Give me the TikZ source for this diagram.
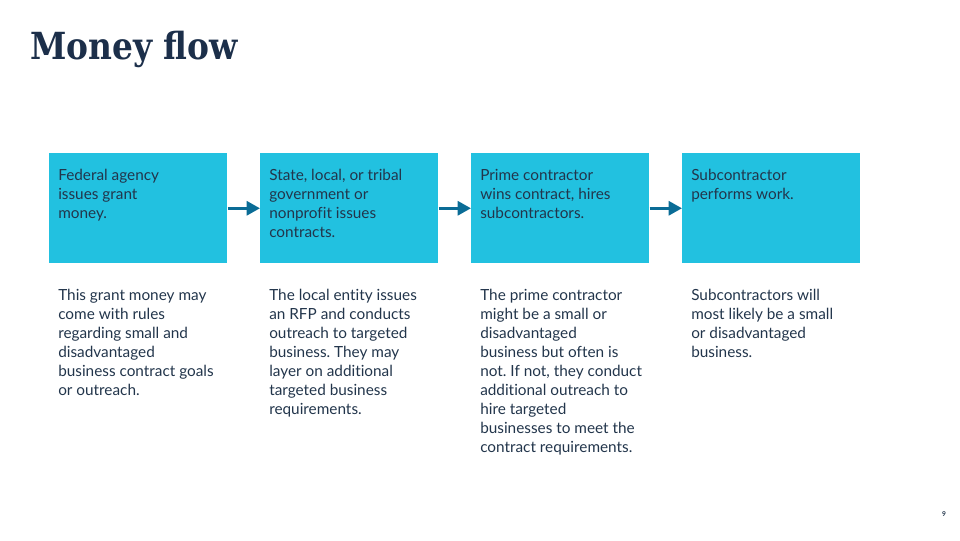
\documentclass[tikz,border=0pt]{standalone}
\usepackage{fontspec}
\setmainfont[Ligatures=NoCommon]{Lato}
\newfontfamily\titlefont[FakeStretch=0.88]{DejaVu Serif}
\usetikzlibrary{positioning,arrows.meta}
\definecolor{boxcyan}{HTML}{22C1E0}
\definecolor{navy}{HTML}{1C2F4A}
\definecolor{arrowteal}{HTML}{0A6C96}
\definecolor{bodytext}{HTML}{22354B}
\frenchspacing
\begin{document}
\begin{tikzpicture}[x=0.75pt,y=-0.75pt,
    stagebox/.style={fill=boxcyan,draw=none,minimum width=133.5pt,minimum height=82.5pt,anchor=north west,inner sep=0},
    stagetext/.style={align=left,text=bodytext,font=\fontsize{11.5}{14.25}\selectfont,inner sep=0},
    flowarrow/.style={draw=arrowteal,line width=2.2pt,-{Triangle[length=10pt,width=10.5pt]}}]
  \useasboundingbox (0,0) rectangle (960,540);
  \node[anchor=base west,text=navy,font=\titlefont\bfseries\fontsize{28}{32}\selectfont,inner sep=0] (title) at (30,59) {Money flow};
  % four stages
  \foreach \i/\x in {1/49,2/260,3/471,4/682}
    \node[stagebox] (box\i) at (\x,153) {};
  \foreach \a/\b in {1/2,2/3,3/4}
    \draw[flowarrow] (box\a) -- (box\b);
  % box texts
  \node[stagetext,below right=12pt and 6.75pt of box1.north west] (head1) {Federal agency\\issues grant\\money.};
  \node[stagetext,below right=12pt and 6.75pt of box2.north west] (head2) {State, local, or tribal\\government or\\nonprofit issues\\contracts.};
  \node[stagetext,below right=12pt and 6.75pt of box3.north west] (head3) {Prime contractor\\wins contract, hires\\subcontractors.};
  \node[stagetext,below right=12pt and 6.75pt of box4.north west] (head4) {Subcontractor\\performs work.};
  % notes below
  \node[stagetext,below right=18.75pt and 6.75pt of box1.south west] (note1) {This grant money may\\come with rules\\regarding small and\\disadvantaged\\business contract goals\\or outreach.};
  \node[stagetext,below right=18.75pt and 6.75pt of box2.south west] (note2) {The local entity issues\\an RFP and conducts\\outreach to targeted\\business. They may\\layer on additional\\targeted business\\requirements.};
  \node[stagetext,below right=18.75pt and 6.75pt of box3.south west] (note3) {The prime contractor\\might be a small or\\disadvantaged\\business but often is\\not. If not, they conduct\\additional outreach to\\hire targeted\\businesses to meet the\\contract requirements.};
  \node[stagetext,below right=18.75pt and 6.75pt of box4.south west] (note4) {Subcontractors will\\most likely be a small\\or disadvantaged\\business.};
  \node[text=bodytext,font=\bfseries\fontsize{5}{6}\selectfont,inner sep=0] (pagenum) at (944,514) {9};
\end{tikzpicture}
\end{document}
